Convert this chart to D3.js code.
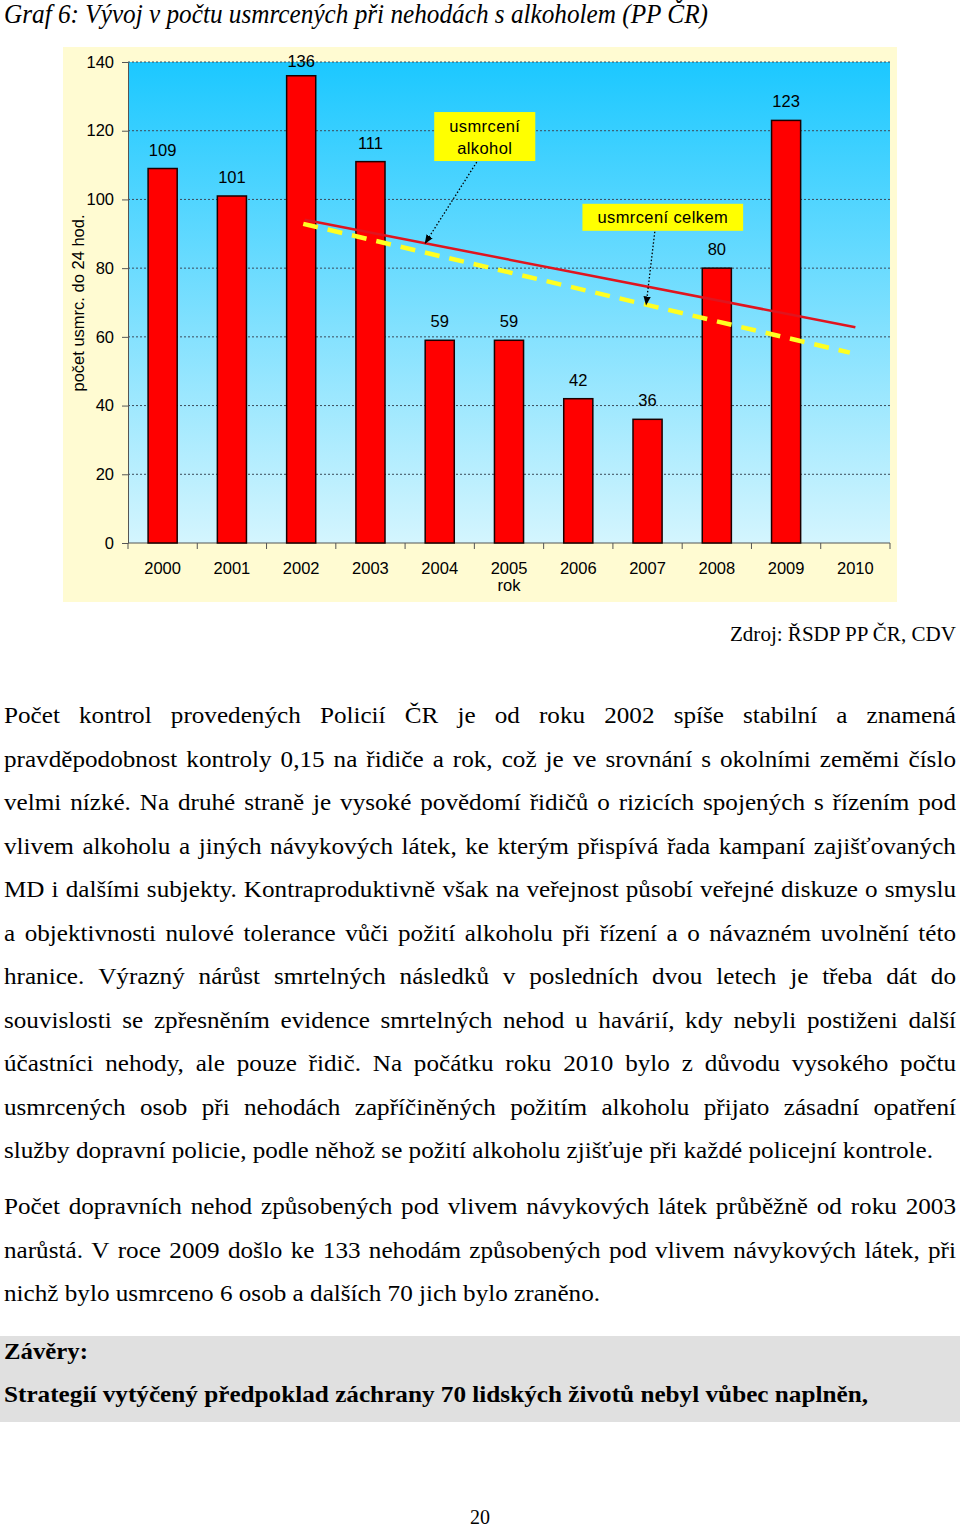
<!DOCTYPE html>
<html><head><meta charset="utf-8">
<script src="https://cdn.jsdelivr.net/npm/d3@7"></script>
<style>
html,body{margin:0;padding:0;background:#fff;overflow:hidden;}
svg{display:block;}
.serif{font-family:"Liberation Serif","Times New Roman",Tinos,Times,"Nimbus Roman","Nimbus Roman No9 L",FreeSerif,"Noto Serif","DejaVu Serif",serif;}
.sans{font-family:"Liberation Sans",Arial,Arimo,Helvetica,sans-serif;}
</style></head>
<body>
<script>
// ---------- data ----------
const years = ["2000","2001","2002","2003","2004","2005","2006","2007","2008","2009","2010"];
const killedAlcohol = [109,101,136,111,59,59,42,36,80,123]; // 2000-2009
const yTicks = [0,20,40,60,80,100,120,140];
const trendAlcohol = [{year:2002.05, value:94.1},{year:2010.0, value:62.8}];
const trendTotal = [{year:2002.03, value:92.9},{year:2009.92, value:55.4}];
const noteAlcohol = {lines:["usmrcení","alkohol"], year:2004.65, value:118.3, target:2003.79};
const noteTotal = {lines:["usmrcení celkem"], year:2007.22, value:94.8, target:2006.98};

const titleText = "Graf 6: Vývoj v počtu usmrcených při nehodách s alkoholem (PP ČR)";
const sourceText = "Zdroj: ŘSDP PP ČR, CDV";
const para1 = [
 "Počet kontrol provedených Policií ČR je od roku 2002 spíše stabilní a znamená",
 "pravděpodobnost kontroly 0,15 na řidiče a rok, což je ve srovnání s okolními zeměmi číslo",
 "velmi nízké. Na druhé straně je vysoké povědomí řidičů o rizicích spojených s řízením pod",
 "vlivem alkoholu a jiných návykových látek, ke kterým přispívá řada kampaní zajišťovaných",
 "MD i dalšími subjekty. Kontraproduktivně však na veřejnost působí veřejné diskuze o smyslu",
 "a objektivnosti nulové tolerance vůči požití alkoholu při řízení a o návazném uvolnění této",
 "hranice. Výrazný nárůst smrtelných následků v posledních dvou letech je třeba dát do",
 "souvislosti se zpřesněním evidence smrtelných nehod u havárií, kdy nebyli postiženi další",
 "účastníci nehody, ale pouze řidič. Na počátku roku 2010 bylo z důvodu vysokého počtu",
 "usmrcených osob při nehodách zapříčiněných požitím alkoholu přijato zásadní opatření",
 "služby dopravní policie, podle něhož se požití alkoholu zjišťuje při každé policejní kontrole."
];
const para2 = [
 "Počet dopravních nehod způsobených pod vlivem návykových látek průběžně od roku 2003",
 "narůstá. V roce 2009 došlo ke 133 nehodám způsobených pod vlivem návykových látek, při",
 "nichž bylo usmrceno 6 osob a dalších 70 jich bylo zraněno."
];
const conclHead = "Závěry:";
const conclLine = "Strategií vytýčený předpoklad záchrany 70 lidských životů nebyl vůbec naplněn,";
const pageNum = "20";

// ---------- layout ----------
const W = 960, H = 1529;
const svg = d3.select("body").append("svg").attr("width", W).attr("height", H);

// title
svg.append("text").attr("class","serif").attr("x", 4).attr("y", 23)
  .attr("font-style", "italic").attr("font-size", 27)
  .attr("textLength", 704).attr("lengthAdjust", "spacingAndGlyphs")
  .text(titleText);

// chart area
const outer = {x0:63, y0:47, x1:897, y1:602};
svg.append("rect").attr("x", outer.x0).attr("y", outer.y0)
  .attr("width", outer.x1-outer.x0).attr("height", outer.y1-outer.y0).attr("fill", "#FFFBD2");

const plot = {x0:128, x1:890, y0:62, y1:543};
const defs = svg.append("defs");
const grad = defs.append("linearGradient").attr("id","bg").attr("x1",0).attr("y1",0).attr("x2",0).attr("y2",1);
grad.append("stop").attr("offset","0%").attr("stop-color","#1CC8FF");
grad.append("stop").attr("offset","100%").attr("stop-color","#D4F5FE");
svg.append("rect").attr("x", plot.x0).attr("y", plot.y0)
  .attr("width", plot.x1-plot.x0).attr("height", plot.y1-plot.y0).attr("fill", "url(#bg)");

const x = d3.scaleBand().domain(years).range([plot.x0, plot.x1]).padding(0);
const step = x.step();
const y = d3.scaleLinear().domain([0, 140]).range([plot.y1, plot.y0]);
const xYear = d3.scaleLinear().domain([2000, 2010])
  .range([x("2000") + step/2, x("2010") + step/2]);

// gridlines
svg.append("g").selectAll("line").data(yTicks.filter(d => d > 0)).join("line")
  .attr("x1", plot.x0).attr("x2", plot.x1)
  .attr("y1", d => y(d)).attr("y2", d => y(d))
  .attr("stroke", "#3a4a5a").attr("stroke-width", 1).attr("stroke-dasharray", "2,2");

// y axis
const yAxis = svg.append("g").attr("transform", `translate(${plot.x0},0)`)
  .call(d3.axisLeft(y).tickValues(yTicks).tickSize(6).tickPadding(8).tickSizeOuter(0));
yAxis.attr("font-family", null).attr("font-size", null);
yAxis.select(".domain").attr("stroke", "#555");
yAxis.selectAll(".tick line").attr("stroke", "#555");
yAxis.selectAll("text").attr("class","sans").attr("font-size", 16.5).attr("fill", "#000");

// x axis
svg.append("line").attr("x1", plot.x0).attr("x2", plot.x1).attr("y1", plot.y1).attr("y2", plot.y1)
  .attr("stroke", "#555");
const bounds = years.map(d => x(d)).concat([x(years[years.length-1]) + step]);
svg.append("g").selectAll("line").data(bounds).join("line")
  .attr("x1", d => d).attr("x2", d => d).attr("y1", plot.y1).attr("y2", plot.y1 + 6)
  .attr("stroke", "#555");
svg.append("g").selectAll("text").data(years).join("text")
  .attr("class","sans")
  .attr("x", d => x(d) + step/2).attr("y", 574)
  .attr("text-anchor", "middle").attr("font-size", 16.5)
  .text(d => d);
svg.append("text").attr("class","sans").attr("x", x("2005") + step/2).attr("y", 591)
  .attr("text-anchor", "middle").attr("font-size", 16.5).text("rok");

// y title
svg.append("text").attr("class","sans").attr("transform", "translate(84,303) rotate(-90)")
  .attr("text-anchor", "middle").attr("font-size", 16.5)
  .text("počet usmrc. do 24 hod.");

// bars
const barW = step * 0.42;
const bars = killedAlcohol.map((v, i) => ({year: years[i], value: v}));
svg.append("g").selectAll("rect").data(bars).join("rect")
  .attr("x", d => x(d.year) + (step - barW)/2).attr("width", barW)
  .attr("y", d => y(d.value)).attr("height", d => y(0) - y(d.value))
  .attr("fill", "#FF0000").attr("stroke", "#1a0000").attr("stroke-width", 1.5);
svg.append("g").selectAll("text").data(bars).join("text")
  .attr("class","sans")
  .attr("x", d => x(d.year) + step/2)
  .attr("y", d => Math.max(y(d.value) - 13, y(140) + 5))
  .attr("text-anchor", "middle").attr("font-size", 16.5)
  .text(d => d.value);

// trend lines
const line = d3.line().x(d => xYear(d.year)).y(d => y(d.value));
svg.append("path").datum(trendAlcohol).attr("d", line)
  .attr("stroke", "#E0141E").attr("stroke-width", 2.5).attr("fill", "none");
svg.append("path").datum(trendTotal).attr("d", line)
  .attr("stroke", "#FFFF22").attr("stroke-width", 4.5).attr("fill", "none")
  .attr("stroke-dasharray", "15,10");

// annotations
defs.append("marker").attr("id","arr").attr("viewBox","0 0 10 10").attr("refX",9).attr("refY",5)
  .attr("markerWidth",7).attr("markerHeight",7).attr("orient","auto")
  .append("path").attr("d","M0,1 L10,5 L0,9 z").attr("fill","#000");

function valueAt(trend, yr) {
  const a = trend[0], b = trend[1];
  return a.value + (b.value - a.value) * (yr - a.year) / (b.year - a.year);
}
function note(n, trend) {
  const cx = xYear(n.year), cy = y(n.value);
  const lh = 22;
  const g = svg.append("g");
  const texts = g.selectAll("text").data(n.lines).join("text")
    .attr("class","sans")
    .attr("x", cx).attr("y", (d, i) => cy + (i - (n.lines.length - 1) / 2) * lh + 6)
    .attr("text-anchor", "middle").attr("font-size", 16.5).attr("letter-spacing", 0.4)
    .text(d => d);
  let maxW = 0;
  texts.each(function(){ maxW = Math.max(maxW, this.getComputedTextLength()); });
  const bw = maxW + 30, bh = n.lines.length * lh + 5;
  g.insert("rect", "text").attr("x", cx - bw/2).attr("y", cy - bh/2)
    .attr("width", bw).attr("height", bh).attr("fill", "#FFFF00");
  const tx = xYear(n.target), ty = y(valueAt(trend, n.target));
  const sx = cx + (tx < cx ? -8 : -1), sy = cy + bh/2 + 1;
  g.append("line").attr("x1", sx).attr("y1", sy).attr("x2", tx).attr("y2", ty)
    .attr("stroke", "#000").attr("stroke-width", 1.3).attr("stroke-dasharray", "1.5,2")
    .attr("marker-end", "url(#arr)");
}
note(noteAlcohol, trendAlcohol);
note(noteTotal, trendTotal);

// ---------- paragraphs ----------
const FS = 24;
function measure(txt, weight, size) {
  const t = svg.append("text").attr("class","serif").attr("font-size", size || FS)
    .attr("font-weight", weight || "normal").text(txt);
  const w = t.node().getComputedTextLength();
  t.remove();
  return w;
}

// source (scaled horizontally to reference width, right-aligned)
{
  const target = 226, fs = 22;
  const sc = target / measure(sourceText, "normal", fs);
  svg.append("g").attr("transform", `translate(${956 - target},641) scale(${sc},1)`)
    .append("text").attr("class","serif").attr("x", 0).attr("y", 0)
    .attr("font-size", fs).text(sourceText);
}

const lastW = 929;
const sxGlobal = lastW / measure(para1[para1.length - 1]);
const left = 4, right = 956;

function drawPara(lines, firstCenter, lastTarget) {
  lines.forEach((ln, i) => {
    const base = firstCenter + i * 43.5 + 7;
    const g = svg.append("g").attr("transform", `translate(${left},${base}) scale(${sxGlobal},1)`);
    const isLast = i === lines.length - 1;
    if (isLast) {
      g.append("text").attr("class","serif").attr("x", 0).attr("y", 0).attr("font-size", FS)
        .attr("textLength", lastTarget / sxGlobal).attr("lengthAdjust", "spacingAndGlyphs").text(ln);
      return;
    }
    const words = ln.split(" ");
    const ws = words.map(w => measure(w));
    const total = (right - left) / sxGlobal;
    const sum = d3.sum(ws);
    const gap = (total - sum) / (words.length - 1);
    let cx = 0;
    const t = g.append("text").attr("class","serif").attr("font-size", FS);
    words.forEach((w, k) => {
      t.append("tspan").attr("x", cx).attr("y", 0).text(w);
      cx += ws[k] + gap;
    });
  });
}
drawPara(para1, 716, 929);
drawPara(para2, 1207, 596);

// conclusions box
svg.append("rect").attr("x", 0).attr("y", 1336).attr("width", 960).attr("height", 86).attr("fill", "#E0E0E0");
svg.append("text").attr("class","serif").attr("x", 4).attr("y", 1359).attr("font-weight", "bold")
  .attr("font-size", FS).attr("textLength", 84).attr("lengthAdjust", "spacingAndGlyphs").text(conclHead);
svg.append("text").attr("class","serif").attr("x", 4).attr("y", 1402).attr("font-weight", "bold")
  .attr("font-size", FS).attr("textLength", 864).attr("lengthAdjust", "spacingAndGlyphs").text(conclLine);

// page number
svg.append("text").attr("class","serif").attr("x", 480).attr("y", 1524).attr("text-anchor", "middle")
  .attr("font-size", 20).text(pageNum);
</script>
</body></html>
